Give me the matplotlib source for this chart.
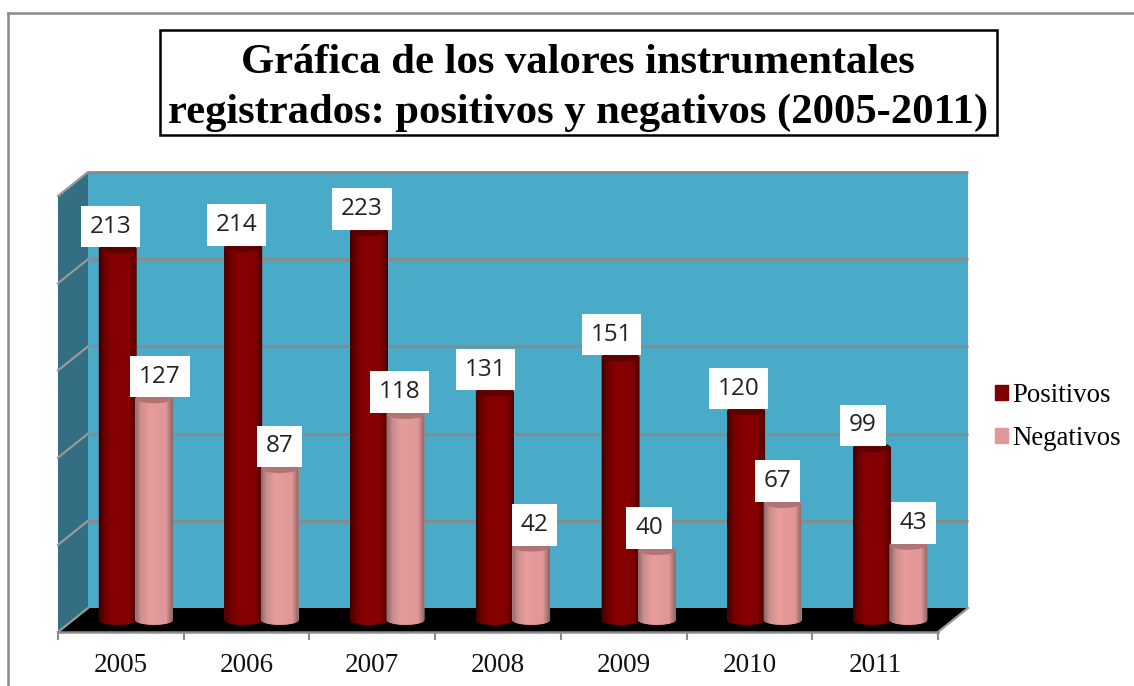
import numpy as np
import matplotlib
matplotlib.use("Agg")
import matplotlib.pyplot as plt
from matplotlib.colors import LinearSegmentedColormap
from matplotlib.lines import Line2D
from matplotlib.patches import Ellipse, Polygon, Rectangle
from matplotlib.transforms import Affine2D, IdentityTransform

# ---- data ----
years = ["2005", "2006", "2007", "2008", "2009", "2010", "2011"]
positivos = [213, 214, 223, 131, 151, 120, 99]
negativos = [127, 87, 118, 42, 40, 67, 43]
series_names = ["Positivos", "Negativos"]
title_lines = ["Gráfica de los valores instrumentales",
               "registrados: positivos y negativos (2005-2011)"]
grid_values = [0, 50, 100, 150, 200, 250]

# ---- layout ----
W, H = 1134, 686
pos_label_dx = [-6, -6, -6, -8, -8, -7, -8]
neg_label_dx = [7, 1, -5, 4, -7, -4, 6]
LABEL_DY = 22
BAR_W = 0.30
SERIF = "Liberation Serif"


def fx(p):
    return p / W


def fy(p):
    return 1 - p / H


fig = plt.figure(figsize=(W / 100, H / 100), dpi=100, facecolor="white")
ax = fig.add_axes([fx(58), fy(632), fx(880), (632 - 196) / H])
ax.set_xlim(-0.5, 6.5)
ax.set_ylim(0, 250)
ax.patch.set_visible(False)
for s in ["top", "left", "right"]:
    ax.spines[s].set_visible(False)
ax.spines["bottom"].set_color("#8c8c8c")
ax.spines["bottom"].set_linewidth(1.8)
ax.set_yticks([])
ax.set_xticks(np.arange(len(years)))
ax.set_xticklabels(years, fontfamily=SERIF, fontsize=19.5, color="#111111")
ax.tick_params(axis="x", which="major", length=0, pad=15)
ax.set_xticks(np.arange(-0.5, len(years)), minor=True)
ax.tick_params(axis="x", which="minor", length=5.5, width=1.5, color="#8c8c8c")

DEPTH_X, DEPTH_Y = 30, 24
wall_tr = ax.transData + Affine2D().translate(DEPTH_X, DEPTH_Y)
bar_tr = ax.transData + Affine2D().translate(15, 12)

# outer frame
for xs, ys in [((8, 8), (13, H)), ((8, W), (13, 13))]:
    fig.add_artist(Line2D([fx(x) for x in xs], [fy(y) for y in ys],
                          color="#8a8a8a", lw=1.8, transform=fig.transFigure))

# back wall
ax.add_patch(Rectangle((-0.5, 0), 7, 250, transform=wall_tr, facecolor="#4aabc8",
                       edgecolor="none", zorder=1, clip_on=False))


def front(x, v):
    return ax.transData.transform((x, v))


def back(x, v):
    return wall_tr.transform((x, v))


# side wall and floor
ax.add_patch(Polygon([front(-0.5, 0), front(-0.5, 250), back(-0.5, 250), back(-0.5, 0)],
                     transform=IdentityTransform(), facecolor="#336e82",
                     edgecolor="none", zorder=1, clip_on=False))
ax.add_patch(Polygon([front(-0.5, 0), front(6.5, 0), back(6.5, 0), back(-0.5, 0)],
                     transform=IdentityTransform(), facecolor="black",
                     edgecolor="none", zorder=1.5, clip_on=False))

# grid lines: back wall and side wall
for v in grid_values:
    if v > 0:
        ax.plot([-0.5, 6.5], [v, v], color="#8a8a8a", lw=2.0, transform=wall_tr,
                zorder=2, clip_on=False, solid_capstyle="butt")
    a, b = front(-0.5, v), back(-0.5, v)
    ax.add_line(Line2D([a[0], b[0]], [a[1], b[1]], color="#999999", lw=1.6,
                       transform=IdentityTransform(), zorder=2, clip_on=False))
a, b = front(6.5, 0), back(6.5, 0)
ax.add_line(Line2D([a[0], b[0]], [a[1], b[1]], color="#999999", lw=1.6,
                   transform=IdentityTransform(), zorder=2, clip_on=False))

# cylinders
dark_cmap = LinearSegmentedColormap.from_list(
    "dark", [(0, "#3f0000"), (0.16, "#6e0000"), (0.35, "#880000"),
             (0.8, "#840000"), (1, "#4a0000")])
pink_cmap = LinearSegmentedColormap.from_list(
    "pink", [(0, "#8a6a6a"), (0.15, "#cc8e8e"), (0.38, "#e89c9c"),
             (0.82, "#e09797"), (1, "#856464")])
grad = np.linspace(0, 1, 128)[None, :]
ELL_H = 5.5


def cylinders(values, offset, face, cap, cmap, label, z):
    x = np.arange(len(values)) + offset
    bars = ax.bar(x, values, BAR_W, color=face, label=label, zorder=z,
                  transform=bar_tr, clip_on=False)
    for b in bars:
        left, w, v = b.get_x(), b.get_width(), b.get_height()
        cx = left + w / 2
        t = np.linspace(0, np.pi, 40)
        arc = np.column_stack([cx + w / 2 * np.cos(t), -ELL_H / 2 * np.sin(t)])
        outline = Polygon(np.vstack([[[left, v], [left + w, v]], arc]), closed=True,
                          transform=bar_tr, facecolor=face, edgecolor="none",
                          zorder=z, clip_on=False)
        ax.add_patch(outline)
        im = ax.imshow(grad, cmap=cmap, extent=(left, left + w, -ELL_H, v), aspect="auto",
                       transform=bar_tr, zorder=z + 0.01, interpolation="bilinear")
        im.set_clip_path(outline)
        ax.add_patch(Ellipse((cx, v), w, ELL_H, transform=bar_tr, facecolor=cap,
                             edgecolor="none", zorder=z + 0.02, clip_on=False))
    return bars


bars_pos = cylinders(positivos, -0.145, "#800000", "#5c0000", dark_cmap, series_names[0], 3)
bars_neg = cylinders(negativos, 0.145, "#e09898", "#b07474", pink_cmap, series_names[1], 3.2)
ax.set_xlim(-0.5, 6.5)
ax.set_ylim(0, 250)

# value labels
for bars, values, dxs in [(bars_pos, positivos, pos_label_dx), (bars_neg, negativos, neg_label_dx)]:
    for b, v, dx in zip(bars, values, dxs):
        ax.annotate(str(v), xy=(b.get_x() + b.get_width() / 2, v), xycoords=bar_tr,
                    xytext=((dx - 1) * 0.72, LABEL_DY * 0.72), textcoords="offset points",
                    ha="center", va="center", fontsize=17.5, fontfamily="Open Sans",
                    color="#222222", zorder=5, annotation_clip=False,
                    bbox=dict(boxstyle="square,pad=0.36", facecolor="white", edgecolor="none"))

# legend
fig.legend(handles=[Rectangle((0, 0), 1, 1, color="#800000"), Rectangle((0, 0), 1, 1, color="#e09898")],
           labels=series_names, loc="upper left", bbox_to_anchor=(fx(984), fy(372)),
           prop=dict(family=SERIF, size=19.3), frameon=False, handlelength=0.48,
           handleheight=0.48, handletextpad=0.17, labelspacing=0.7, borderpad=0.4, borderaxespad=0)

# title
fig.add_artist(Rectangle((fx(159.5), fy(134.5)), fx(837), (134.5 - 30) / H, transform=fig.transFigure,
                         facecolor="white", edgecolor="black", lw=1.8))
for line, y in zip(title_lines, [63, 113]):
    fig.text(fx(578), fy(y), line, ha="center", va="center", fontfamily=SERIF,
             fontweight="bold", fontsize=30.7, color="black")

fig.savefig("out.png", dpi=100, facecolor="white")
